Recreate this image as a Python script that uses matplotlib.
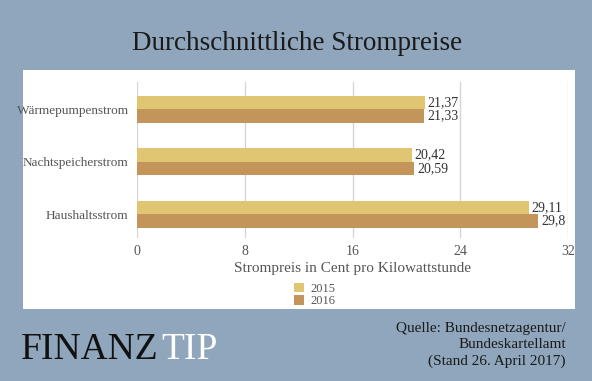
import matplotlib.pyplot as plt
from matplotlib.patches import Rectangle, Patch

# data
categories = ["Haushaltsstrom", "Nachtspeicherstrom", "Wärmepumpenstrom"]
prices_2015 = [29.11, 20.42, 21.37]
prices_2016 = [29.8, 20.59, 21.33]
years = ["2015", "2016"]
x_ticks = [0, 8, 16, 24, 32]

BG = "#8fa6bc"
C2015 = "#e0c572"
C2016 = "#c4955a"

plt.rcParams["font.family"] = ["Liberation Serif", "DejaVu Serif"]

fig = plt.figure(figsize=(5.92, 3.81), dpi=100)
fig.patch.set_facecolor(BG)

# white panel behind the chart
fig.patches.append(Rectangle((23 / 592, 1 - 309 / 381), 552 / 592, 239 / 381,
                             transform=fig.transFigure, facecolor="white",
                             edgecolor="none", zorder=-10))

ax = fig.add_axes([137 / 592, 1 - 238 / 381, 431 / 592, 156 / 381])
ax.set_facecolor("none")

h = 0.257
pos = list(range(len(categories)))
ax.barh([p + h / 2 for p in pos], prices_2015, height=h, color=C2015, zorder=2)
ax.barh([p - h / 2 for p in pos], prices_2016, height=h, color=C2016, zorder=2)

def fmt(v):
    return f"{v:g}".replace(".", ",")

for p, v in zip(pos, prices_2015):
    ax.text(v + 0.2, p + h / 2, fmt(v), va="center", ha="left", fontsize=10, color="#333333")
for p, v in zip(pos, prices_2016):
    ax.text(v + 0.2, p - h / 2, fmt(v), va="center", ha="left", fontsize=10, color="#333333")

ax.set_xlim(0, 32)
ax.set_ylim(-0.45, 2.52)
ax.set_xticks(x_ticks)
ax.set_xticklabels([str(t) for t in x_ticks])
ax.set_yticks(pos)
ax.set_yticklabels(categories)
ax.tick_params(axis="x", length=0, labelsize=10, colors="#555555", pad=5)
ax.tick_params(axis="y", length=0, labelsize=9.5, colors="#555555", pad=6)
ax.grid(axis="x", color="#888888", alpha=0.35, linewidth=1, zorder=3)
for s in ax.spines.values():
    s.set_visible(False)

ax.set_xlabel("Strompreis in Cent pro Kilowattstunde", fontsize=11, color="#555555", labelpad=3)

handles = [Patch(facecolor=C2015), Patch(facecolor=C2016)]
fig.legend(handles, years, loc="center", bbox_to_anchor=(315 / 592, 1 - 295 / 381),
           frameon=False, fontsize=9, handlelength=0.8, handleheight=0.8,
           labelspacing=0.0, handletextpad=0.5, borderpad=0, labelcolor="#555555")

fig.text(297 / 592, 1 - 44 / 381, "Durchschnittliche Strompreise", ha="center", va="center",
         fontsize=19.5, color="#1a1a1a")

fig.text(21 / 592, 1 - 350 / 381, "FINANZ", ha="left", va="center", fontsize=27, color="#111111")
fig.text(161 / 592, 1 - 350 / 381, "TIP", ha="left", va="center", fontsize=27, color="white")

fig.text(566 / 592, 1 - 345 / 381, "Quelle: Bundesnetzagentur/\nBundeskartellamt\n(Stand 26. April 2017)",
         ha="right", va="center", fontsize=11, color="#1a1a1a", linespacing=1.3)

fig.savefig("out.png", dpi=100, facecolor=BG)
